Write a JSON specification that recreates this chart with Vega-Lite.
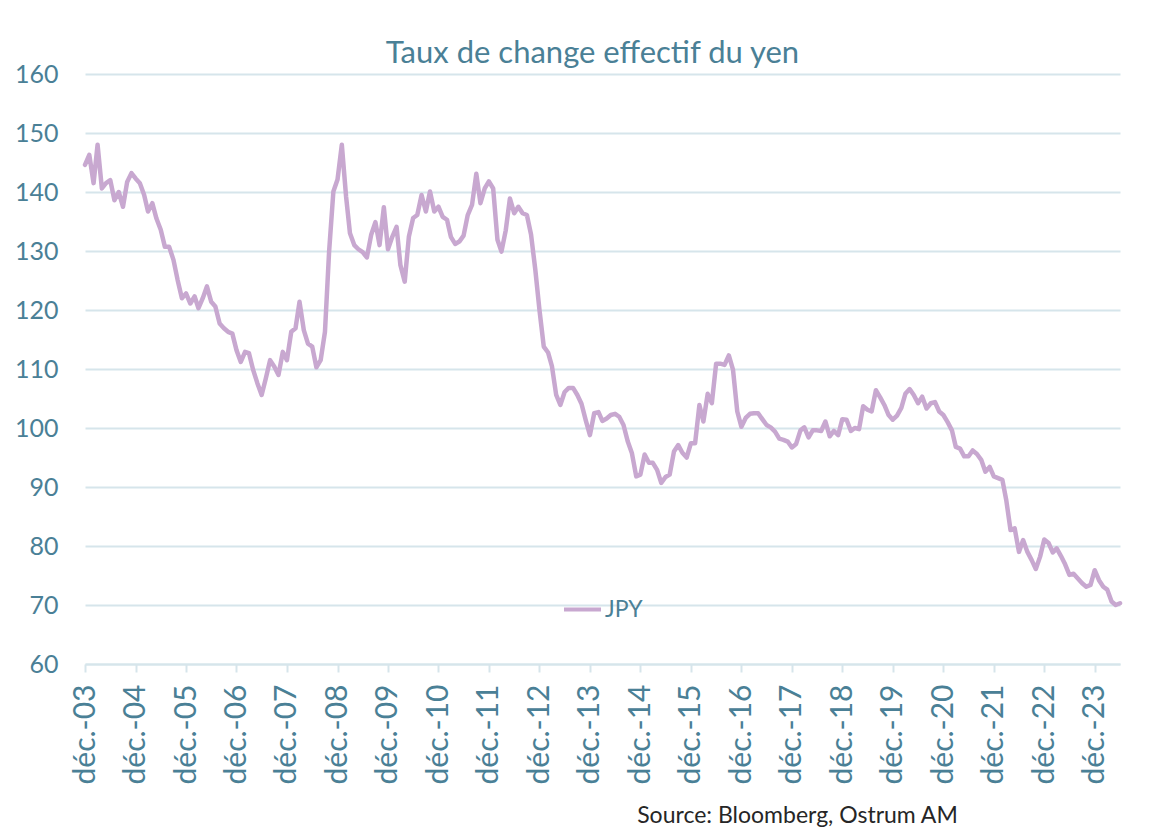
{
  "$schema": "https://vega.github.io/schema/vega-lite/v6.json",
  "width": 1035,
  "height": 590,
  "autosize": {"type": "none"},
  "padding": {"left": 85, "top": 74, "right": 43, "bottom": 176},
  "background": "#ffffff",
  "title": {
    "text": "Taux de change effectif du yen",
    "font": "Lato",
    "fontSize": 31,
    "fontWeight": "normal",
    "color": "#4a8096",
    "anchor": "middle",
    "dx": -10,
    "offset": -8
  },
  "config": {
    "view": {"stroke": null},
    "font": "Lato"
  },
  "data": {
    "values": [
      {"date": "2003-12", "series": "JPY", "value": 144.6},
      {"date": "2004-01", "series": "JPY", "value": 146.3},
      {"date": "2004-02", "series": "JPY", "value": 141.5},
      {"date": "2004-03", "series": "JPY", "value": 148.0},
      {"date": "2004-04", "series": "JPY", "value": 140.6},
      {"date": "2004-05", "series": "JPY", "value": 141.5},
      {"date": "2004-06", "series": "JPY", "value": 142.0},
      {"date": "2004-07", "series": "JPY", "value": 138.6},
      {"date": "2004-08", "series": "JPY", "value": 140.0},
      {"date": "2004-09", "series": "JPY", "value": 137.5},
      {"date": "2004-10", "series": "JPY", "value": 141.7},
      {"date": "2004-11", "series": "JPY", "value": 143.2},
      {"date": "2004-12", "series": "JPY", "value": 142.3},
      {"date": "2005-01", "series": "JPY", "value": 141.5},
      {"date": "2005-02", "series": "JPY", "value": 139.5},
      {"date": "2005-03", "series": "JPY", "value": 136.7},
      {"date": "2005-04", "series": "JPY", "value": 138.1},
      {"date": "2005-05", "series": "JPY", "value": 135.5},
      {"date": "2005-06", "series": "JPY", "value": 133.6},
      {"date": "2005-07", "series": "JPY", "value": 130.7},
      {"date": "2005-08", "series": "JPY", "value": 130.7},
      {"date": "2005-09", "series": "JPY", "value": 128.5},
      {"date": "2005-10", "series": "JPY", "value": 125.1},
      {"date": "2005-11", "series": "JPY", "value": 122.0},
      {"date": "2005-12", "series": "JPY", "value": 122.8},
      {"date": "2006-01", "series": "JPY", "value": 121.1},
      {"date": "2006-02", "series": "JPY", "value": 122.3},
      {"date": "2006-03", "series": "JPY", "value": 120.3},
      {"date": "2006-04", "series": "JPY", "value": 122.0},
      {"date": "2006-05", "series": "JPY", "value": 124.0},
      {"date": "2006-06", "series": "JPY", "value": 121.4},
      {"date": "2006-07", "series": "JPY", "value": 120.6},
      {"date": "2006-08", "series": "JPY", "value": 117.7},
      {"date": "2006-09", "series": "JPY", "value": 116.9},
      {"date": "2006-10", "series": "JPY", "value": 116.3},
      {"date": "2006-11", "series": "JPY", "value": 116.0},
      {"date": "2006-12", "series": "JPY", "value": 113.2},
      {"date": "2007-01", "series": "JPY", "value": 111.2},
      {"date": "2007-02", "series": "JPY", "value": 112.9},
      {"date": "2007-03", "series": "JPY", "value": 112.7},
      {"date": "2007-04", "series": "JPY", "value": 109.8},
      {"date": "2007-05", "series": "JPY", "value": 107.6},
      {"date": "2007-06", "series": "JPY", "value": 105.6},
      {"date": "2007-07", "series": "JPY", "value": 108.4},
      {"date": "2007-08", "series": "JPY", "value": 111.5},
      {"date": "2007-09", "series": "JPY", "value": 110.4},
      {"date": "2007-10", "series": "JPY", "value": 109.0},
      {"date": "2007-11", "series": "JPY", "value": 112.9},
      {"date": "2007-12", "series": "JPY", "value": 111.5},
      {"date": "2008-01", "series": "JPY", "value": 116.3},
      {"date": "2008-02", "series": "JPY", "value": 116.9},
      {"date": "2008-03", "series": "JPY", "value": 121.4},
      {"date": "2008-04", "series": "JPY", "value": 116.6},
      {"date": "2008-05", "series": "JPY", "value": 114.3},
      {"date": "2008-06", "series": "JPY", "value": 113.8},
      {"date": "2008-07", "series": "JPY", "value": 110.3},
      {"date": "2008-08", "series": "JPY", "value": 111.5},
      {"date": "2008-09", "series": "JPY", "value": 116.3},
      {"date": "2008-10", "series": "JPY", "value": 129.9},
      {"date": "2008-11", "series": "JPY", "value": 140.1},
      {"date": "2008-12", "series": "JPY", "value": 142.1},
      {"date": "2009-01", "series": "JPY", "value": 148.0},
      {"date": "2009-02", "series": "JPY", "value": 139.2},
      {"date": "2009-03", "series": "JPY", "value": 133.0},
      {"date": "2009-04", "series": "JPY", "value": 131.0},
      {"date": "2009-05", "series": "JPY", "value": 130.3},
      {"date": "2009-06", "series": "JPY", "value": 129.8},
      {"date": "2009-07", "series": "JPY", "value": 128.9},
      {"date": "2009-08", "series": "JPY", "value": 132.7},
      {"date": "2009-09", "series": "JPY", "value": 134.9},
      {"date": "2009-10", "series": "JPY", "value": 131.0},
      {"date": "2009-11", "series": "JPY", "value": 137.4},
      {"date": "2009-12", "series": "JPY", "value": 130.3},
      {"date": "2010-01", "series": "JPY", "value": 132.4},
      {"date": "2010-02", "series": "JPY", "value": 134.1},
      {"date": "2010-03", "series": "JPY", "value": 127.6},
      {"date": "2010-04", "series": "JPY", "value": 124.8},
      {"date": "2010-05", "series": "JPY", "value": 132.4},
      {"date": "2010-06", "series": "JPY", "value": 135.6},
      {"date": "2010-07", "series": "JPY", "value": 136.1},
      {"date": "2010-08", "series": "JPY", "value": 139.5},
      {"date": "2010-09", "series": "JPY", "value": 136.7},
      {"date": "2010-10", "series": "JPY", "value": 140.1},
      {"date": "2010-11", "series": "JPY", "value": 136.7},
      {"date": "2010-12", "series": "JPY", "value": 137.5},
      {"date": "2011-01", "series": "JPY", "value": 135.8},
      {"date": "2011-02", "series": "JPY", "value": 135.3},
      {"date": "2011-03", "series": "JPY", "value": 132.4},
      {"date": "2011-04", "series": "JPY", "value": 131.2},
      {"date": "2011-05", "series": "JPY", "value": 131.6},
      {"date": "2011-06", "series": "JPY", "value": 132.6},
      {"date": "2011-07", "series": "JPY", "value": 136.1},
      {"date": "2011-08", "series": "JPY", "value": 137.8},
      {"date": "2011-09", "series": "JPY", "value": 143.1},
      {"date": "2011-10", "series": "JPY", "value": 138.1},
      {"date": "2011-11", "series": "JPY", "value": 140.6},
      {"date": "2011-12", "series": "JPY", "value": 141.8},
      {"date": "2012-01", "series": "JPY", "value": 140.6},
      {"date": "2012-02", "series": "JPY", "value": 131.9},
      {"date": "2012-03", "series": "JPY", "value": 129.9},
      {"date": "2012-04", "series": "JPY", "value": 133.5},
      {"date": "2012-05", "series": "JPY", "value": 138.9},
      {"date": "2012-06", "series": "JPY", "value": 136.4},
      {"date": "2012-07", "series": "JPY", "value": 137.5},
      {"date": "2012-08", "series": "JPY", "value": 136.4},
      {"date": "2012-09", "series": "JPY", "value": 136.1},
      {"date": "2012-10", "series": "JPY", "value": 132.8},
      {"date": "2012-11", "series": "JPY", "value": 126.8},
      {"date": "2012-12", "series": "JPY", "value": 120.0},
      {"date": "2013-01", "series": "JPY", "value": 113.8},
      {"date": "2013-02", "series": "JPY", "value": 112.8},
      {"date": "2013-03", "series": "JPY", "value": 110.5},
      {"date": "2013-04", "series": "JPY", "value": 105.6},
      {"date": "2013-05", "series": "JPY", "value": 103.9},
      {"date": "2013-06", "series": "JPY", "value": 106.1},
      {"date": "2013-07", "series": "JPY", "value": 106.8},
      {"date": "2013-08", "series": "JPY", "value": 106.8},
      {"date": "2013-09", "series": "JPY", "value": 105.6},
      {"date": "2013-10", "series": "JPY", "value": 104.1},
      {"date": "2013-11", "series": "JPY", "value": 101.3},
      {"date": "2013-12", "series": "JPY", "value": 98.8},
      {"date": "2014-01", "series": "JPY", "value": 102.5},
      {"date": "2014-02", "series": "JPY", "value": 102.7},
      {"date": "2014-03", "series": "JPY", "value": 101.2},
      {"date": "2014-04", "series": "JPY", "value": 101.6},
      {"date": "2014-05", "series": "JPY", "value": 102.2},
      {"date": "2014-06", "series": "JPY", "value": 102.4},
      {"date": "2014-07", "series": "JPY", "value": 101.9},
      {"date": "2014-08", "series": "JPY", "value": 100.5},
      {"date": "2014-09", "series": "JPY", "value": 97.7},
      {"date": "2014-10", "series": "JPY", "value": 95.7},
      {"date": "2014-11", "series": "JPY", "value": 91.8},
      {"date": "2014-12", "series": "JPY", "value": 92.1},
      {"date": "2015-01", "series": "JPY", "value": 95.5},
      {"date": "2015-02", "series": "JPY", "value": 94.1},
      {"date": "2015-03", "series": "JPY", "value": 94.1},
      {"date": "2015-04", "series": "JPY", "value": 92.9},
      {"date": "2015-05", "series": "JPY", "value": 90.7},
      {"date": "2015-06", "series": "JPY", "value": 91.7},
      {"date": "2015-07", "series": "JPY", "value": 92.1},
      {"date": "2015-08", "series": "JPY", "value": 96.0},
      {"date": "2015-09", "series": "JPY", "value": 97.1},
      {"date": "2015-10", "series": "JPY", "value": 95.8},
      {"date": "2015-11", "series": "JPY", "value": 95.0},
      {"date": "2015-12", "series": "JPY", "value": 97.4},
      {"date": "2016-01", "series": "JPY", "value": 97.4},
      {"date": "2016-02", "series": "JPY", "value": 103.9},
      {"date": "2016-03", "series": "JPY", "value": 101.1},
      {"date": "2016-04", "series": "JPY", "value": 105.8},
      {"date": "2016-05", "series": "JPY", "value": 104.2},
      {"date": "2016-06", "series": "JPY", "value": 110.9},
      {"date": "2016-07", "series": "JPY", "value": 110.9},
      {"date": "2016-08", "series": "JPY", "value": 110.7},
      {"date": "2016-09", "series": "JPY", "value": 112.3},
      {"date": "2016-10", "series": "JPY", "value": 109.9},
      {"date": "2016-11", "series": "JPY", "value": 102.8},
      {"date": "2016-12", "series": "JPY", "value": 100.2},
      {"date": "2017-01", "series": "JPY", "value": 101.7},
      {"date": "2017-02", "series": "JPY", "value": 102.4},
      {"date": "2017-03", "series": "JPY", "value": 102.5},
      {"date": "2017-04", "series": "JPY", "value": 102.5},
      {"date": "2017-05", "series": "JPY", "value": 101.5},
      {"date": "2017-06", "series": "JPY", "value": 100.5},
      {"date": "2017-07", "series": "JPY", "value": 100.1},
      {"date": "2017-08", "series": "JPY", "value": 99.4},
      {"date": "2017-09", "series": "JPY", "value": 98.2},
      {"date": "2017-10", "series": "JPY", "value": 98.0},
      {"date": "2017-11", "series": "JPY", "value": 97.7},
      {"date": "2017-12", "series": "JPY", "value": 96.7},
      {"date": "2018-01", "series": "JPY", "value": 97.3},
      {"date": "2018-02", "series": "JPY", "value": 99.6},
      {"date": "2018-03", "series": "JPY", "value": 100.1},
      {"date": "2018-04", "series": "JPY", "value": 98.4},
      {"date": "2018-05", "series": "JPY", "value": 99.6},
      {"date": "2018-06", "series": "JPY", "value": 99.6},
      {"date": "2018-07", "series": "JPY", "value": 99.5},
      {"date": "2018-08", "series": "JPY", "value": 101.1},
      {"date": "2018-09", "series": "JPY", "value": 98.6},
      {"date": "2018-10", "series": "JPY", "value": 99.5},
      {"date": "2018-11", "series": "JPY", "value": 98.8},
      {"date": "2018-12", "series": "JPY", "value": 101.5},
      {"date": "2019-01", "series": "JPY", "value": 101.4},
      {"date": "2019-02", "series": "JPY", "value": 99.5},
      {"date": "2019-03", "series": "JPY", "value": 100.0},
      {"date": "2019-04", "series": "JPY", "value": 99.8},
      {"date": "2019-05", "series": "JPY", "value": 103.7},
      {"date": "2019-06", "series": "JPY", "value": 103.1},
      {"date": "2019-07", "series": "JPY", "value": 102.8},
      {"date": "2019-08", "series": "JPY", "value": 106.4},
      {"date": "2019-09", "series": "JPY", "value": 105.2},
      {"date": "2019-10", "series": "JPY", "value": 103.9},
      {"date": "2019-11", "series": "JPY", "value": 102.2},
      {"date": "2019-12", "series": "JPY", "value": 101.4},
      {"date": "2020-01", "series": "JPY", "value": 102.1},
      {"date": "2020-02", "series": "JPY", "value": 103.4},
      {"date": "2020-03", "series": "JPY", "value": 105.8},
      {"date": "2020-04", "series": "JPY", "value": 106.6},
      {"date": "2020-05", "series": "JPY", "value": 105.6},
      {"date": "2020-06", "series": "JPY", "value": 104.2},
      {"date": "2020-07", "series": "JPY", "value": 105.3},
      {"date": "2020-08", "series": "JPY", "value": 103.3},
      {"date": "2020-09", "series": "JPY", "value": 104.2},
      {"date": "2020-10", "series": "JPY", "value": 104.4},
      {"date": "2020-11", "series": "JPY", "value": 102.8},
      {"date": "2020-12", "series": "JPY", "value": 102.2},
      {"date": "2021-01", "series": "JPY", "value": 101.0},
      {"date": "2021-02", "series": "JPY", "value": 99.6},
      {"date": "2021-03", "series": "JPY", "value": 96.8},
      {"date": "2021-04", "series": "JPY", "value": 96.5},
      {"date": "2021-05", "series": "JPY", "value": 95.2},
      {"date": "2021-06", "series": "JPY", "value": 95.2},
      {"date": "2021-07", "series": "JPY", "value": 96.2},
      {"date": "2021-08", "series": "JPY", "value": 95.6},
      {"date": "2021-09", "series": "JPY", "value": 94.6},
      {"date": "2021-10", "series": "JPY", "value": 92.6},
      {"date": "2021-11", "series": "JPY", "value": 93.4},
      {"date": "2021-12", "series": "JPY", "value": 91.8},
      {"date": "2022-01", "series": "JPY", "value": 91.5},
      {"date": "2022-02", "series": "JPY", "value": 91.2},
      {"date": "2022-03", "series": "JPY", "value": 87.8},
      {"date": "2022-04", "series": "JPY", "value": 82.7},
      {"date": "2022-05", "series": "JPY", "value": 83.0},
      {"date": "2022-06", "series": "JPY", "value": 79.0},
      {"date": "2022-07", "series": "JPY", "value": 81.0},
      {"date": "2022-08", "series": "JPY", "value": 79.0},
      {"date": "2022-09", "series": "JPY", "value": 77.6},
      {"date": "2022-10", "series": "JPY", "value": 76.1},
      {"date": "2022-11", "series": "JPY", "value": 78.2},
      {"date": "2022-12", "series": "JPY", "value": 81.1},
      {"date": "2023-01", "series": "JPY", "value": 80.5},
      {"date": "2023-02", "series": "JPY", "value": 78.9},
      {"date": "2023-03", "series": "JPY", "value": 79.6},
      {"date": "2023-04", "series": "JPY", "value": 78.3},
      {"date": "2023-05", "series": "JPY", "value": 76.9},
      {"date": "2023-06", "series": "JPY", "value": 75.1},
      {"date": "2023-07", "series": "JPY", "value": 75.3},
      {"date": "2023-08", "series": "JPY", "value": 74.5},
      {"date": "2023-09", "series": "JPY", "value": 73.7},
      {"date": "2023-10", "series": "JPY", "value": 73.1},
      {"date": "2023-11", "series": "JPY", "value": 73.4},
      {"date": "2023-12", "series": "JPY", "value": 75.9},
      {"date": "2024-01", "series": "JPY", "value": 74.2},
      {"date": "2024-02", "series": "JPY", "value": 73.1},
      {"date": "2024-03", "series": "JPY", "value": 72.6},
      {"date": "2024-04", "series": "JPY", "value": 70.6},
      {"date": "2024-05", "series": "JPY", "value": 70.0},
      {"date": "2024-06", "series": "JPY", "value": 70.3}
    ],
    "format": {"parse": {"date": "date:'%Y-%m'"}}
  },
  "mark": {"type": "line", "strokeWidth": 4.5, "strokeJoin": "round", "strokeCap": "round"},
  "encoding": {
    "x": {
      "field": "date",
      "type": "temporal",
      "scale": {
        "domain": [
          {"year": 2003, "month": 12, "date": 1},
          {"year": 2024, "month": 6, "date": 1}
        ]
      },
      "axis": {
        "values": [
          {"year": 2003, "month": 12, "date": 1},
          {"year": 2004, "month": 12, "date": 1},
          {"year": 2005, "month": 12, "date": 1},
          {"year": 2006, "month": 12, "date": 1},
          {"year": 2007, "month": 12, "date": 1},
          {"year": 2008, "month": 12, "date": 1},
          {"year": 2009, "month": 12, "date": 1},
          {"year": 2010, "month": 12, "date": 1},
          {"year": 2011, "month": 12, "date": 1},
          {"year": 2012, "month": 12, "date": 1},
          {"year": 2013, "month": 12, "date": 1},
          {"year": 2014, "month": 12, "date": 1},
          {"year": 2015, "month": 12, "date": 1},
          {"year": 2016, "month": 12, "date": 1},
          {"year": 2017, "month": 12, "date": 1},
          {"year": 2018, "month": 12, "date": 1},
          {"year": 2019, "month": 12, "date": 1},
          {"year": 2020, "month": 12, "date": 1},
          {"year": 2021, "month": 12, "date": 1},
          {"year": 2022, "month": 12, "date": 1},
          {"year": 2023, "month": 12, "date": 1}
        ],
        "labelExpr": "'déc.-' + timeFormat(datum.value, '%y')",
        "labelAngle": -90,
        "labelAlign": "right",
        "labelBaseline": "middle",
        "labelFont": "Lato",
        "labelFontSize": 30,
        "labelColor": "#4a8096",
        "labelPadding": 12,
        "labelOverlap": false,
        "labelBound": false,
        "labelFlush": false,
        "grid": false,
        "domain": true,
        "domainColor": "#d6e5eb",
        "domainWidth": 2,
        "ticks": true,
        "tickColor": "#d6e5eb",
        "tickWidth": 2,
        "tickSize": 8,
        "title": "Source: Bloomberg, Ostrum AM",
        "titleFont": "Lato",
        "titleFontSize": 23,
        "titleFontWeight": "normal",
        "titleColor": "#262626",
        "titleAlign": "center",
        "titleBaseline": "middle",
        "titleX": 712,
        "titleY": 151
      }
    },
    "y": {
      "field": "value",
      "type": "quantitative",
      "scale": {"domain": [60, 160], "nice": false, "zero": false},
      "axis": {
        "values": [60, 70, 80, 90, 100, 110, 120, 130, 140, 150, 160],
        "title": null,
        "domain": false,
        "ticks": false,
        "grid": true,
        "gridColor": "#d6e5eb",
        "gridWidth": 2,
        "labelFont": "Lato",
        "labelFontSize": 25,
        "labelColor": "#4a8096",
        "labelPadding": 27
      }
    },
    "color": {
      "field": "series",
      "type": "nominal",
      "scale": {"range": ["#c8a8d0"]},
      "legend": {
        "title": null,
        "orient": "none",
        "legendX": 477,
        "legendY": 515,
        "symbolType": "stroke",
        "symbolSize": 1369,
        "symbolStrokeWidth": 4,
        "labelFont": "Lato",
        "labelFontSize": 23,
        "labelColor": "#4a8096",
        "labelOffset": 2
      }
    }
  }
}
